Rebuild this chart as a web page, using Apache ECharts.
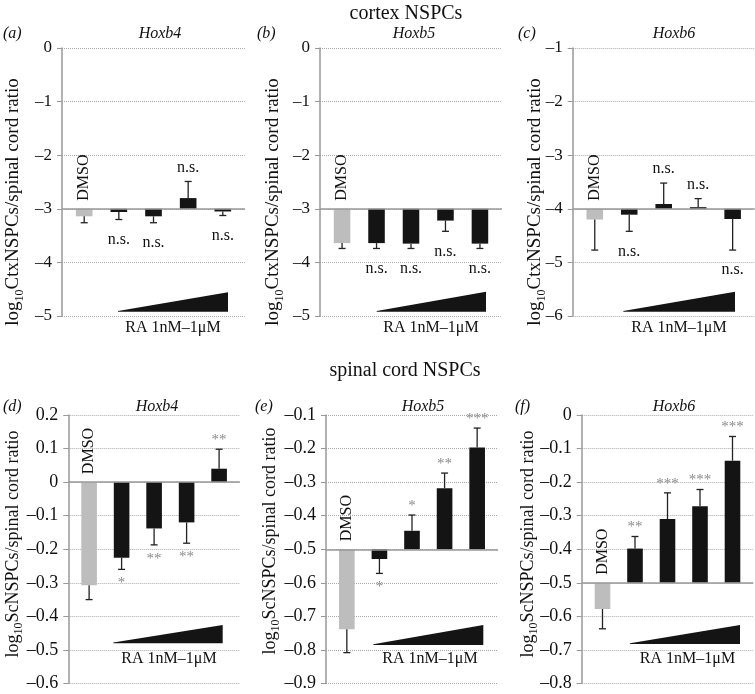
<!DOCTYPE html>
<html>
<head>
<meta charset="utf-8">
<script src="https://cdn.jsdelivr.net/npm/echarts@6/dist/echarts.min.js"></script>
<style>
  html, body { margin: 0; background: #fff; }
  #main { width: 755px; height: 694px; }
</style>
</head>
<body>
<div id="main"></div>
<script>
const main = document.getElementById('main');
const myChart = echarts.init(main, null, { renderer: 'canvas' });

const FONT = 'Liberation Serif';

// conditions on the x axis (only DMSO is written on the chart)
const categories = ['DMSO', 'RA 1nM', 'RA 10nM', 'RA 100nM', 'RA 1uM'];

// cortex NSPCs : log10 Ctx/spinal cord ratio
const ctxHoxb4 = [-3.14, -3.06, -3.14, -2.80, -3.05];
const ctxHoxb4Err = [0.12, 0.14, 0.12, 0.31, 0.075];
const ctxHoxb4Sig = ['', 'n.s.', 'n.s.', 'n.s.', 'n.s.'];

const ctxHoxb5 = [-3.64, -3.64, -3.65, -3.22, -3.65];
const ctxHoxb5Err = [0.10, 0.10, 0.09, 0.20, 0.09];
const ctxHoxb5Sig = ['', 'n.s.', 'n.s.', 'n.s.', 'n.s.'];

const ctxHoxb6 = [-4.20, -4.11, -3.91, -3.97, -4.19];
const ctxHoxb6Err = [0.57, 0.31, 0.39, 0.16, 0.58];
const ctxHoxb6Sig = ['', 'n.s.', 'n.s.', 'n.s.', 'n.s.'];

// spinal cord NSPCs : log10 Sc/spinal cord ratio
const scHoxb4 = [-0.307, -0.225, -0.138, -0.120, 0.040];
const scHoxb4Err = [0.043, 0.035, 0.049, 0.062, 0.058];
const scHoxb4Sig = ['', '*', '**', '**', '**'];

const scHoxb5 = [-0.738, -0.529, -0.445, -0.318, -0.197];
const scHoxb5Err = [0.070, 0.043, 0.047, 0.045, 0.058];
const scHoxb5Sig = ['', '*', '*', '**', '***'];

const scHoxb6 = [-0.578, -0.398, -0.310, -0.272, -0.136];
const scHoxb6Err = [0.059, 0.036, 0.078, 0.050, 0.072];
const scHoxb6Sig = ['', '**', '***', '***', '***'];

// axis ranges: min, max, step, baseline
const ctxRanges = [[-5, 0, 1, -3], [-5, 0, 1, -3], [-6, -1, 1, -4]];
const scRanges = [[-0.6, 0.2, 0.1, 0], [-0.9, -0.1, 0.1, -0.5], [-0.8, 0, 0.1, -0.5]];

const genes = ['Hoxb4', 'Hoxb5', 'Hoxb6'];
const letters = ['(a)', '(b)', '(c)', '(d)', '(e)', '(f)'];

// layout of the six panels (pixels)
const panels = [
  { values: ctxHoxb4, err: ctxHoxb4Err, sig: ctxHoxb4Sig, range: ctxRanges[0], gene: genes[0],
    grid: { left: 62, top: 48, width: 183, height: 268 }, letterX: 3, geneX: 160, headY: 34,
    nameX: 13, nameY: 202, nameSize: 19, tickSize: 17, yName: 'CtxNSPCs/spinal cord ratio',
    wedge: [118, 228, 311.7, 292.3], raX: 173, raY: 328 },
  { values: ctxHoxb5, err: ctxHoxb5Err, sig: ctxHoxb5Sig, range: ctxRanges[1], gene: genes[1],
    grid: { left: 320, top: 48, width: 182, height: 268 }, letterX: 257, geneX: 414, headY: 34,
    nameX: 273, nameY: 202, nameSize: 19, tickSize: 17, yName: 'CtxNSPCs/spinal cord ratio',
    wedge: [376.7, 486, 311.7, 291.7], raX: 431, raY: 328 },
  { values: ctxHoxb6, err: ctxHoxb6Err, sig: ctxHoxb6Sig, range: ctxRanges[2], gene: genes[2],
    grid: { left: 572.7, top: 48, width: 182, height: 268 }, letterX: 518, geneX: 674, headY: 34,
    nameX: 535, nameY: 202, nameSize: 19, tickSize: 17, yName: 'CtxNSPCs/spinal cord ratio',
    wedge: [623.3, 735, 311.7, 291.7], raX: 679, raY: 328 },
  { values: scHoxb4, err: scHoxb4Err, sig: scHoxb4Sig, range: scRanges[0], gene: genes[0],
    grid: { left: 68.3, top: 415, width: 171.6, height: 268.5 }, letterX: 3, geneX: 157, headY: 407,
    nameX: 13, nameY: 544, nameSize: 18, tickSize: 18, yName: 'ScNSPCs/spinal cord ratio',
    wedge: [113.3, 222.7, 643.3, 625], raX: 169, raY: 659 },
  { values: scHoxb5, err: scHoxb5Err, sig: scHoxb5Sig, range: scRanges[1], gene: genes[1],
    grid: { left: 326, top: 415, width: 172, height: 268.5 }, letterX: 255, geneX: 423, headY: 407,
    nameX: 270, nameY: 541, nameSize: 18, tickSize: 18, yName: 'ScNSPCs/spinal cord ratio',
    wedge: [373.3, 483.3, 645, 625], raX: 430, raY: 659 },
  { values: scHoxb6, err: scHoxb6Err, sig: scHoxb6Sig, range: scRanges[2], gene: genes[2],
    grid: { left: 581.7, top: 415, width: 171.6, height: 268.5 }, letterX: 515, geneX: 674, headY: 407,
    nameX: 528, nameY: 544, nameSize: 18, tickSize: 18, yName: 'ScNSPCs/spinal cord ratio',
    wedge: [630, 740, 644, 625], raX: 687.5, raY: 659 }
];

function dash(v) {
  return String(v).replace('-', '\u2013');
}

function makeRender(p) {
  const base = p.range[3];
  return function (params, api) {
    const i = api.value(0);
    const v = api.value(1);
    const e = api.value(2);
    const up = v >= base;
    const end = up ? v + e : v - e;
    const c0 = api.coord([i, base]);
    const c1 = api.coord([i, v]);
    const c2 = api.coord([i, end]);
    const w = api.size([1, 0])[0] * 0.48;
    const children = [
      { type: 'rect',
        shape: { x: c0[0] - w / 2, y: Math.min(c0[1], c1[1]), width: w, height: Math.abs(c1[1] - c0[1]) },
        style: { fill: i === 0 ? '#bdbdbd' : '#141414' } },
      { type: 'line', shape: { x1: c1[0], y1: c1[1], x2: c2[0], y2: c2[1] },
        style: { stroke: '#222', lineWidth: 1.3 } },
      { type: 'line', shape: { x1: c2[0] - 3.5, y1: c2[1], x2: c2[0] + 3.5, y2: c2[1] },
        style: { stroke: '#222', lineWidth: 1.3 } }
    ];
    const s = p.sig[params.dataIndex];
    if (s) {
      const star = s.indexOf('*') >= 0;
      const dy = star ? (up ? -9 : 14) : (up ? -14 : 20);
      children.push({
        type: 'text', x: c2[0], y: c2[1] + dy,
        style: { text: s, fill: star ? '#8a8a8a' : '#111', fontSize: star ? 15 : 16, fontFamily: FONT,
                 align: 'center', verticalAlign: 'middle' }
      });
    }
    if (i === 0) {
      children.push({
        type: 'text', x: c0[0], y: c0[1] - 8, rotation: Math.PI / 2,
        style: { text: categories[0], fill: '#111', fontSize: 16, fontFamily: FONT, align: 'left', verticalAlign: 'middle' }
      });
    }
    return { type: 'group', children: children };
  };
}

const grids = [], xAxes = [], yAxes = [], series = [], graphics = [];

graphics.push({ type: 'text', x: 406, y: 14, style: { text: 'cortex NSPCs', fontSize: 20, fontFamily: FONT, fill: '#111', align: 'center', verticalAlign: 'middle' } });
graphics.push({ type: 'text', x: 405, y: 371, style: { text: 'spinal cord NSPCs', fontSize: 20, fontFamily: FONT, fill: '#111', align: 'center', verticalAlign: 'middle' } });

panels.forEach(function (p, k) {
  grids.push(Object.assign({ outerBoundsMode: 'none', containLabel: false }, p.grid));
  xAxes.push({ gridIndex: k, type: 'value', min: -0.64, max: 4.64, show: false });
  yAxes.push({
    gridIndex: k, type: 'value', min: p.range[0], max: p.range[1], interval: p.range[2],
    axisLine: { show: true, onZero: false, lineStyle: { color: '#999', width: 1.5 } },
    axisTick: { show: true, length: 5, lineStyle: { color: '#999', width: 1 } },
    axisLabel: { color: '#111', fontSize: p.tickSize, fontFamily: FONT, margin: 10,
                 formatter: function (v) { return dash(Math.round(v * 10) / 10); } },
    splitLine: { show: true, lineStyle: { color: '#aaa', type: 'dotted', width: 1 } }
  });
  series.push({
    type: 'custom', xAxisIndex: k, yAxisIndex: k,
    renderItem: makeRender(p),
    data: p.values.map(function (v, i) { return [i, v, p.err[i]]; }),
    markLine: {
      silent: true, symbol: 'none', label: { show: false }, animation: false,
      lineStyle: { color: '#999', width: 1.5, type: 'solid' },
      data: [{ yAxis: p.range[3] }]
    }
  });
  graphics.push({ type: 'text', x: p.letterX, y: p.headY,
    style: { text: letters[k], fontStyle: 'italic', fontSize: 16, fontFamily: FONT, fill: '#111', align: 'left', verticalAlign: 'middle' } });
  graphics.push({ type: 'text', x: p.geneX, y: p.headY,
    style: { text: p.gene, fontStyle: 'italic', fontSize: 16, fontFamily: FONT, fill: '#111', align: 'center', verticalAlign: 'middle' } });
  graphics.push({ type: 'text', x: p.nameX, y: p.nameY, rotation: Math.PI / 2,
    style: {
      text: '{n|log}{s|10}{n|' + p.yName + '}',
      align: 'center', verticalAlign: 'middle', fill: '#111',
      rich: {
        n: { fontSize: p.nameSize, fontFamily: FONT, lineHeight: p.nameSize + 6, verticalAlign: 'middle', fill: '#111' },
        s: { fontSize: Math.round(p.nameSize * 0.65), fontFamily: FONT, lineHeight: 12, verticalAlign: 'bottom', fill: '#111' }
      }
    } });
  const wd = p.wedge;
  graphics.push({ type: 'polygon', shape: { points: [[wd[0], wd[2]], [wd[1], wd[2]], [wd[1], wd[3]], [wd[0], wd[2] - 0.8]] },
    style: { fill: '#141414' } });
  graphics.push({ type: 'text', x: p.raX, y: p.raY,
    style: { text: 'RA 1nM\u20131\u03bcM', fontSize: 16, fontFamily: FONT, fill: '#111', align: 'center', verticalAlign: 'middle' } });
});

myChart.setOption({
  animation: false,
  grid: grids,
  xAxis: xAxes,
  yAxis: yAxes,
  series: series,
  graphic: graphics
});
</script>
</body>
</html>
